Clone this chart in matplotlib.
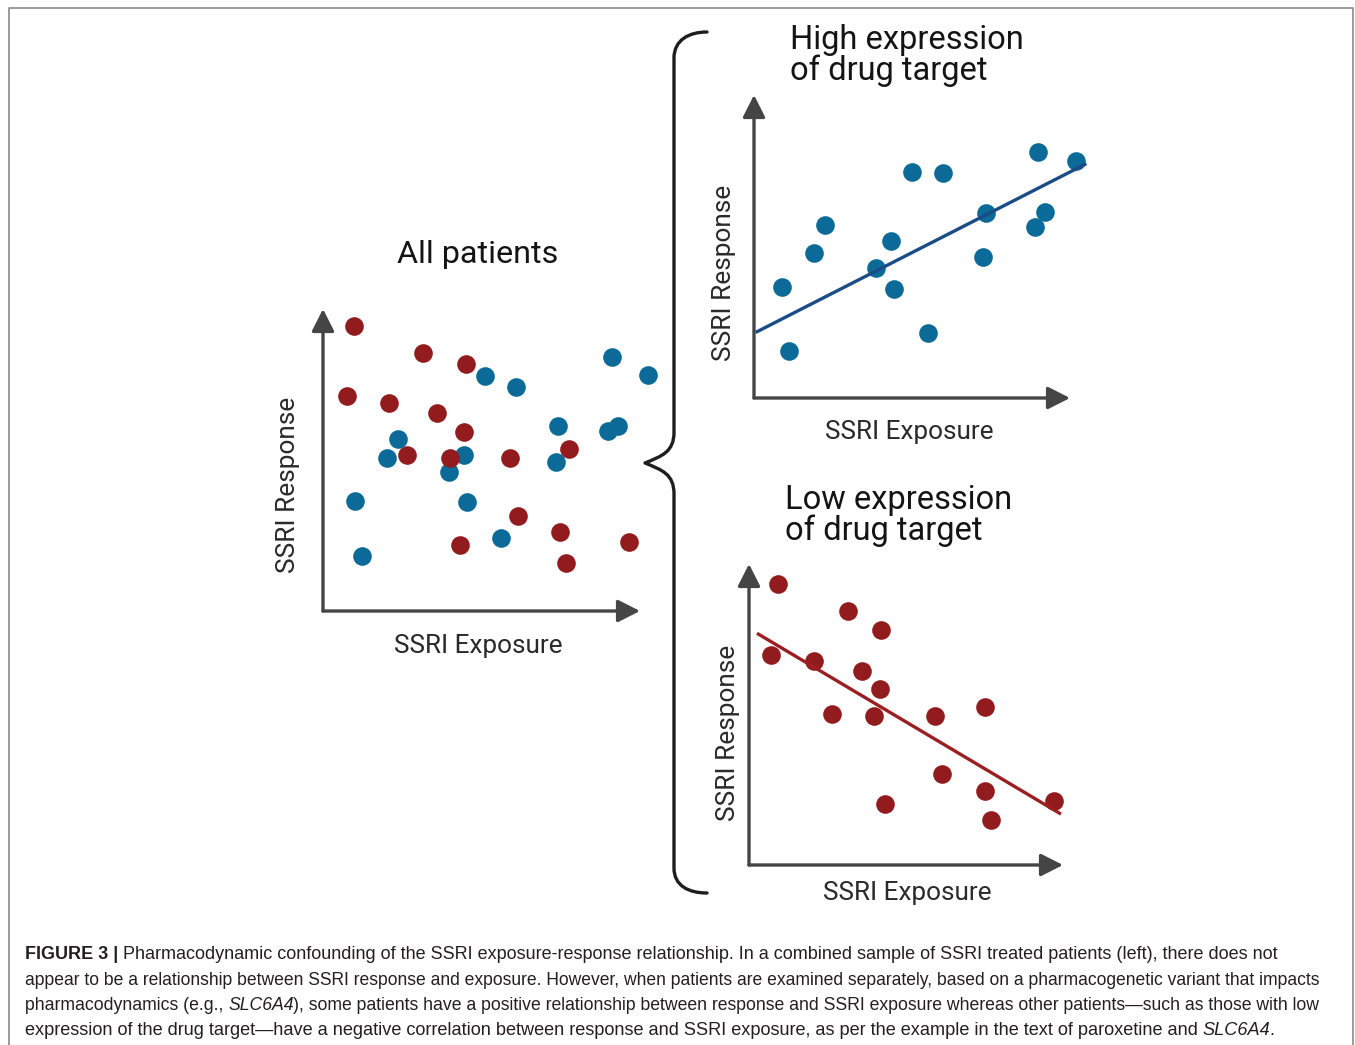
import matplotlib
matplotlib.use("Agg")
import matplotlib.pyplot as plt
from matplotlib.path import Path
from matplotlib.patches import PathPatch

# ---- data (exposure / response, arbitrary 0-100 units) ----
all_red_x = [9.7, 31.5, 45.2, 7.6, 20.9, 36.1, 44.5, 26.5, 40.0, 59.0, 77.5, 61.4, 74.8, 43.3, 76.7, 96.6]
all_red_y = [94.4, 85.5, 81.8, 71.3, 69.0, 65.5, 59.4, 51.8, 50.8, 50.8, 53.6, 31.4, 26.3, 21.9, 16.0, 22.9]
all_blue_x = [91.1, 102.6, 51.2, 60.9, 74.2, 93.1, 89.8, 23.7, 20.2, 44.4, 39.8, 73.5, 10.1, 45.5, 56.2, 12.4]
all_blue_y = [84.2, 78.0, 77.8, 74.3, 61.3, 61.4, 59.5, 57.1, 50.8, 51.7, 46.1, 49.4, 36.5, 36.0, 24.3, 18.3]

high_x = [90.0, 101.9, 50.0, 59.9, 73.3, 92.2, 88.9, 22.6, 43.3, 19.0, 72.6, 38.6, 8.9, 44.4, 55.1, 11.2]
high_y = [81.1, 78.2, 74.6, 74.4, 61.2, 61.4, 56.4, 57.1, 51.7, 47.8, 46.5, 43.0, 36.7, 36.1, 21.4, 15.5]
high_fit_x = [1.0, 104.7]
high_fit_y = [21.9, 77.1]

low_x = [9.2, 31.4, 41.9, 7.1, 20.6, 36.0, 41.7, 26.4, 39.8, 59.1, 75.1, 61.5, 75.1, 97.1, 43.3, 77.0]
low_y = [93.3, 84.5, 78.1, 69.7, 67.9, 64.4, 58.4, 50.1, 49.6, 49.6, 52.6, 30.1, 24.5, 21.3, 20.2, 15.0]
low_fit_x = [3.0, 98.9]
low_fit_y = [76.7, 17.2]

caption_lines = [
    [("FIGURE 3 | ", "bold"),
     ("Pharmacodynamic confounding of the SSRI exposure-response relationship. In a combined sample of SSRI treated patients (left), there does not", "normal")],
    [("appear to be a relationship between SSRI response and exposure. However, when patients are examined separately, based on a pharmacogenetic variant that impacts", "normal")],
    [("pharmacodynamics (e.g., ", "normal"), ("SLC6A4", "italic"),
     ("), some patients have a positive relationship between response and SSRI exposure whereas other patients\u2014such as those with low", "normal")],
    [("expression of the drug target\u2014have a negative correlation between response and SSRI exposure, as per the example in the text of paroxetine and ", "normal"),
     ("SLC6A4", "italic"), (".", "normal")],
]

BLUE = "#0b6a97"
RED = "#921b1e"
BLUE_LINE = "#1a4c88"
RED_LINE = "#9b1f22"
AXIS = "#454545"
W, H = 1355, 1045

fig = plt.figure(figsize=(W / 100, H / 100), dpi=100)
bg = fig.add_axes([0, 0, 1, 1])
bg.set_xlim(0, W)
bg.set_ylim(H, 0)
bg.axis("off")

# frame (left, top, right)
bg.plot([9, 9, 1353, 1353], [H, 8, 8, H], color="#8a8a8a", lw=1.2)

# curly brace
verts = [(707, 32), (689, 32), (674, 40), (674, 58), (674, 432),
         (674, 452), (662, 456), (645, 463),
         (662, 470), (674, 474), (674, 494),
         (674, 868), (674, 886), (689, 893), (707, 893)]
codes = [Path.MOVETO, Path.CURVE4, Path.CURVE4, Path.CURVE4, Path.LINETO,
         Path.CURVE4, Path.CURVE4, Path.CURVE4,
         Path.CURVE4, Path.CURVE4, Path.CURVE4,
         Path.LINETO, Path.CURVE4, Path.CURVE4, Path.CURVE4]
bg.add_patch(PathPatch(Path(verts, codes), fill=False, lw=2.4, color="#1e1e1e",
                       capstyle="round", joinstyle="round"))


def panel(x0, x1, ytop, ybot):
    ax = fig.add_axes([x0 / W, 1 - ybot / H, (x1 - x0) / W, (ybot - ytop) / H])
    ax.set_xlim(0, 100)
    ax.set_ylim(0, 100)
    ax.axis("off")
    sty = "-|>,head_length=0.75,head_width=0.38"
    ax.annotate("", xy=(1, 0), xytext=(0, 0), xycoords="axes fraction",
                arrowprops=dict(arrowstyle=sty, color=AXIS, lw=2.4, mutation_scale=18,
                                shrinkA=0, shrinkB=0))
    ax.annotate("", xy=(0, 1), xytext=(0, 0), xycoords="axes fraction",
                arrowprops=dict(arrowstyle=sty, color=AXIS, lw=2.4, mutation_scale=18,
                                shrinkA=0, shrinkB=0))
    return ax


ms = 180
ax_all = panel(323, 640, 309, 611)
ax_all.scatter(all_blue_x, all_blue_y, s=ms, color=BLUE, lw=0, clip_on=False, zorder=3)
ax_all.scatter(all_red_x, all_red_y, s=ms, color=RED, lw=0, clip_on=False, zorder=3)

ax_hi = panel(754, 1070, 95, 398)
ax_hi.plot(high_fit_x, high_fit_y, color=BLUE_LINE, lw=2.4, clip_on=False, zorder=4)
ax_hi.scatter(high_x, high_y, s=ms, color=BLUE, lw=0, clip_on=False, zorder=3)

ax_lo = panel(749, 1063, 564, 865)
ax_lo.plot(low_fit_x, low_fit_y, color=RED_LINE, lw=2.4, clip_on=False, zorder=4)
ax_lo.scatter(low_x, low_y, s=ms, color=RED, lw=0, clip_on=False, zorder=3)

# panel texts
TF = "Roboto"
TC = "#141414"
bg.text(478, 263, "All patients", fontsize=23.3, family=TF, color=TC, ha="center", va="baseline")
bg.text(790, 49, "High expression", fontsize=23.5, family=TF, color=TC, ha="left", va="baseline")
bg.text(790, 80, "of drug target", fontsize=23.5, family=TF, color=TC, ha="left", va="baseline")
bg.text(785, 509, "Low expression", fontsize=23.5, family=TF, color=TC, ha="left", va="baseline")
bg.text(785, 540, "of drug target", fontsize=23.5, family=TF, color=TC, ha="left", va="baseline")

for (x, y) in [(478, 653), (909, 439), (907, 900)]:
    bg.text(x, y, "SSRI Exposure", fontsize=18.8, family=TF, color="#2a2a2a", ha="center", va="baseline")
for (x, y) in [(288, 485), (724, 273), (728, 733)]:
    bg.text(x, y, "SSRI Response", fontsize=18.9, family=TF, color="#2a2a2a", rotation=90,
            ha="center", va="center")

# caption, drawn piece by piece so bold / italic runs follow each other
fig.canvas.draw()
rend = fig.canvas.get_renderer()
inv = bg.transData.inverted()
baselines = [959, 985, 1010, 1035]
line_ends = [1281, 1323, 1323, 1279]


def draw_line(pieces, yb, size):
    x = 25
    made = []
    for txt, style in pieces:
        t = bg.text(x, yb, txt, fontsize=size, family="Liberation Sans", color="#231f20",
                    ha="left", va="baseline",
                    fontweight="bold" if style == "bold" else "normal",
                    fontstyle="italic" if style == "italic" else "normal")
        made.append(t)
        bb = t.get_window_extent(renderer=rend)
        x = inv.transform((bb.x1, bb.y0))[0]
        if style == "italic":
            x -= 1.0
    return made, x


for pieces, yb, xe in zip(caption_lines, baselines, line_ends):
    made, x = draw_line(pieces, yb, 12.6)
    size = 12.6 * (xe - 25) / (x - 25)
    for t in made:
        t.remove()
    draw_line(pieces, yb, size)

fig.savefig("out.png", dpi=100)
